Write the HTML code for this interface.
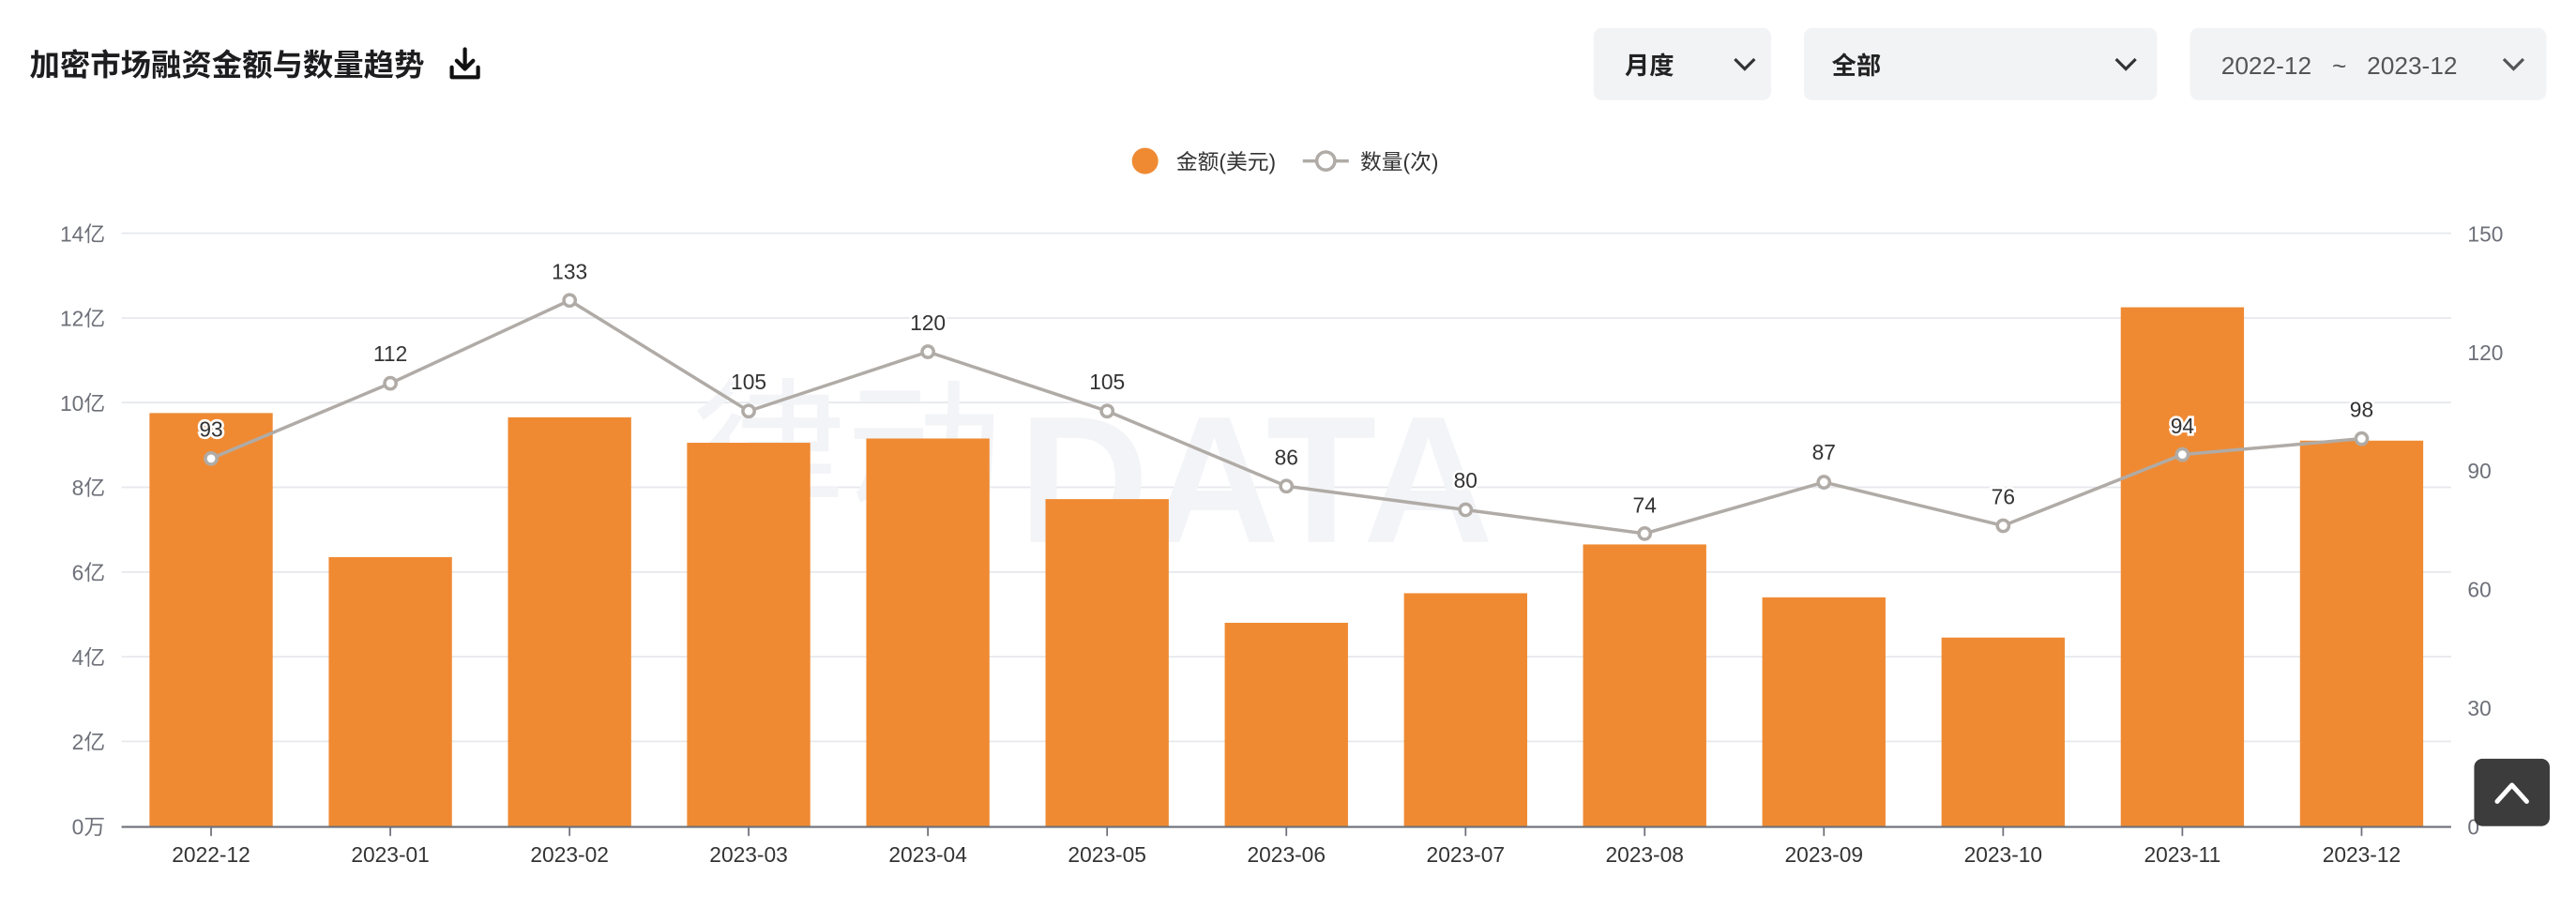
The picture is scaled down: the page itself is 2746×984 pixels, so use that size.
<!DOCTYPE html>
<html><head><meta charset="utf-8"><style>
html,body{margin:0;padding:0;background:#fff;}
svg{display:block}
text{font-family:"Liberation Sans","Noto Sans CJK SC",sans-serif;}
</style></head><body>
<svg width="2746" height="984" viewBox="0 0 1568 562" preserveAspectRatio="none" xmlns="http://www.w3.org/2000/svg">
<rect width="1568" height="562" fill="#fff"/>
<!-- header -->
<text x="18" y="46" font-size="18.5" font-weight="bold" fill="#1d1d1f">加密市场融资金额与数量趋势</text>
<g stroke="#111" stroke-width="2.4" fill="none" stroke-linecap="round" stroke-linejoin="round">
<path d="M283 30 V42 M278 37 L283 42 L288 37"/>
<path d="M275 41 V47 H291 V41"/>
</g>
<rect x="970" y="17" width="108" height="44" rx="5" fill="#f2f3f5"/>
<text x="989" y="45" font-size="15" font-weight="bold" fill="#222">月度</text>
<path d="M1056 36 L1062 42 L1068 36" stroke="#333" stroke-width="1.8" fill="none"/>
<rect x="1098" y="17" width="215" height="44" rx="5" fill="#f2f3f5"/>
<text x="1115" y="45" font-size="15" font-weight="bold" fill="#222">全部</text>
<path d="M1288 36 L1294 42 L1300 36" stroke="#333" stroke-width="1.8" fill="none"/>
<rect x="1333" y="17" width="217" height="44" rx="5" fill="#f2f3f5"/>
<text x="1352" y="45" font-size="15" fill="#555" xml:space="preserve">2022-12   ~   2023-12</text>
<path d="M1524 36 L1530 42 L1536 36" stroke="#555" stroke-width="1.8" fill="none"/>
<!-- legend -->
<circle cx="697" cy="98" r="8" fill="#ef8a33"/>
<text x="716" y="103" font-size="13" fill="#333">金额(美元)</text>
<line x1="793" y1="98" x2="821" y2="98" stroke="#b0aba6" stroke-width="2"/>
<circle cx="807" cy="98" r="5.5" fill="#fff" stroke="#b0aba6" stroke-width="2"/>
<text x="828" y="103" font-size="13" fill="#333">数量(次)</text>
<!-- grid -->
<g stroke="#e6e8ec" stroke-width="1">
<line x1="74" y1="142" x2="1492" y2="142"/>
<line x1="74" y1="193.6" x2="1492" y2="193.6"/>
<line x1="74" y1="245.1" x2="1492" y2="245.1"/>
<line x1="74" y1="296.7" x2="1492" y2="296.7"/>
<line x1="74" y1="348.3" x2="1492" y2="348.3"/>
<line x1="74" y1="399.9" x2="1492" y2="399.9"/>
<line x1="74" y1="451.4" x2="1492" y2="451.4"/>
</g>
<!-- watermark -->
<text x="620" y="330" font-size="110" font-weight="bold" fill="#f3f4f7">DATA</text>
<text x="420" y="310" font-size="95" fill="#f3f4f7">律动</text>
<!-- left axis labels -->
<g font-size="13" fill="#6e7079" text-anchor="end">
<text x="64" y="147">14亿</text><text x="64" y="198.6">12亿</text><text x="64" y="250.1">10亿</text>
<text x="64" y="301.7">8亿</text><text x="64" y="353.3">6亿</text><text x="64" y="404.9">4亿</text>
<text x="64" y="456.4">2亿</text><text x="64" y="508">0万</text>
</g>
<g font-size="13" fill="#6e7079">
<text x="1502" y="147">150</text><text x="1502" y="219.2">120</text><text x="1502" y="291.4">90</text>
<text x="1502" y="363.6">60</text><text x="1502" y="435.8">30</text><text x="1502" y="508">0</text>
</g>
<!-- bars -->
<g fill="#ef8a33">
<rect x="91" y="251.5" width="75" height="251.5"/>
<rect x="200.1" y="339.2" width="75" height="163.8"/>
<rect x="309.2" y="254.1" width="75" height="248.9"/>
<rect x="418.2" y="269.6" width="75" height="233.4"/>
<rect x="527.3" y="267" width="75" height="236"/>
<rect x="636.4" y="303.9" width="75" height="199.1"/>
<rect x="745.5" y="379.2" width="75" height="123.8"/>
<rect x="854.6" y="361.2" width="75" height="141.8"/>
<rect x="963.6" y="331.5" width="75" height="171.5"/>
<rect x="1072.7" y="363.7" width="75" height="139.3"/>
<rect x="1181.8" y="388.2" width="75" height="114.8"/>
<rect x="1290.9" y="187.1" width="75" height="315.9"/>
<rect x="1400" y="268.3" width="75" height="234.7"/>
</g>
<!-- x axis -->
<line x1="74" y1="503.5" x2="1492" y2="503.5" stroke="#6e7079" stroke-width="1.2"/>
<g stroke="#6e7079" stroke-width="1">
<line x1="128.5" y1="504" x2="128.5" y2="509"/><line x1="237.6" y1="504" x2="237.6" y2="509"/>
<line x1="346.7" y1="504" x2="346.7" y2="509"/><line x1="455.7" y1="504" x2="455.7" y2="509"/>
<line x1="564.8" y1="504" x2="564.8" y2="509"/><line x1="673.9" y1="504" x2="673.9" y2="509"/>
<line x1="783" y1="504" x2="783" y2="509"/><line x1="892.1" y1="504" x2="892.1" y2="509"/>
<line x1="1001.1" y1="504" x2="1001.1" y2="509"/><line x1="1110.2" y1="504" x2="1110.2" y2="509"/>
<line x1="1219.3" y1="504" x2="1219.3" y2="509"/><line x1="1328.4" y1="504" x2="1328.4" y2="509"/>
<line x1="1437.5" y1="504" x2="1437.5" y2="509"/>
</g>
<g font-size="13" fill="#333" text-anchor="middle">
<text x="128.5" y="525">2022-12</text><text x="237.6" y="525">2023-01</text><text x="346.7" y="525">2023-02</text>
<text x="455.7" y="525">2023-03</text><text x="564.8" y="525">2023-04</text><text x="673.9" y="525">2023-05</text>
<text x="783" y="525">2023-06</text><text x="892.1" y="525">2023-07</text><text x="1001.1" y="525">2023-08</text>
<text x="1110.2" y="525">2023-09</text><text x="1219.3" y="525">2023-10</text><text x="1328.4" y="525">2023-11</text>
<text x="1437.5" y="525">2023-12</text>
</g>
<!-- line -->
<polyline fill="none" stroke="#b0aba6" stroke-width="2" points="128.5,279.2 237.6,233.4 346.7,182.9 455.7,250.3 564.8,214.2 673.9,250.3 783,296 892.1,310.4 1001.1,324.9 1110.2,293.6 1219.3,320.1 1328.4,276.8 1437.5,267.1"/>
<g fill="#fff" stroke="#b0aba6" stroke-width="2">
<circle cx="128.5" cy="279.2" r="3.5"/><circle cx="237.6" cy="233.4" r="3.5"/><circle cx="346.7" cy="182.9" r="3.5"/>
<circle cx="455.7" cy="250.3" r="3.5"/><circle cx="564.8" cy="214.2" r="3.5"/><circle cx="673.9" cy="250.3" r="3.5"/>
<circle cx="783" cy="296" r="3.5"/><circle cx="892.1" cy="310.4" r="3.5"/><circle cx="1001.1" cy="324.9" r="3.5"/>
<circle cx="1110.2" cy="293.6" r="3.5"/><circle cx="1219.3" cy="320.1" r="3.5"/><circle cx="1328.4" cy="276.8" r="3.5"/>
<circle cx="1437.5" cy="267.1" r="3.5"/>
</g>
<g font-size="13" fill="#333" text-anchor="middle" stroke="#fff" stroke-width="3" paint-order="stroke">
<text x="128.5" y="266">93</text><text x="237.6" y="220">112</text><text x="346.7" y="170">133</text>
<text x="455.7" y="237">105</text><text x="564.8" y="201">120</text><text x="673.9" y="237">105</text>
<text x="783" y="283">86</text><text x="892.1" y="297">80</text><text x="1001.1" y="312">74</text>
<text x="1110.2" y="280">87</text><text x="1219.3" y="307">76</text><text x="1328.4" y="264">94</text>
<text x="1437.5" y="254">98</text>
</g>
<!-- back to top -->
<rect x="1506" y="462" width="46" height="41" rx="5" fill="#3c3c3c"/>
<path d="M1520 488 L1529 478 L1538 488" stroke="#fff" stroke-width="2.8" fill="none" stroke-linecap="round" stroke-linejoin="round"/>
</svg>
</body></html>
